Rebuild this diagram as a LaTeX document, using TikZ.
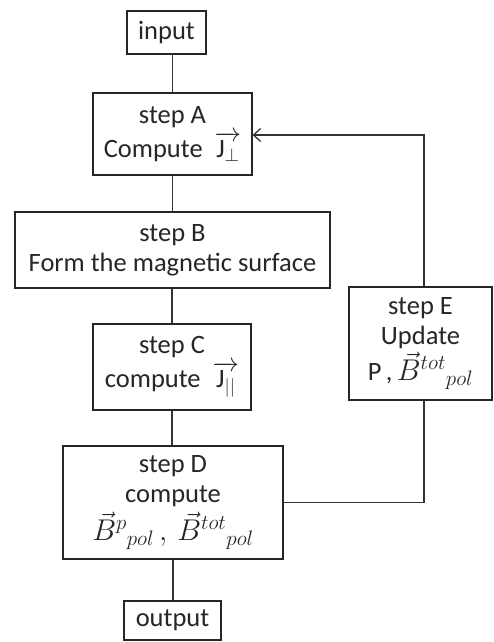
\documentclass[tikz,border=0pt]{standalone}
\usepackage{fix-cm}
\usepackage{fontspec}
\setmainfont{Carlito}
\usetikzlibrary{arrows.meta}
\newcommand{\bigmath}[1]{{\fontsize{30}{30}\selectfont$#1$}}
\begin{document}
\begin{tikzpicture}[x=1pt,y=-1pt,
  box/.style={draw=black!85, line width=1.3pt, align=center, inner sep=0pt,
    font=\fontsize{26.5}{30}\selectfont, text=black!85},
  wire/.style={draw=black!80, line width=1.3pt}]
\useasboundingbox (0,0) rectangle (494,642);
\node[box, minimum width=79pt, minimum height=43pt] (in) at (166.5,32.5) {input};
\node[box, minimum width=159pt, minimum height=82pt] (A) at (172.5,134) {step A\\[4pt]Compute\ \ $\overrightarrow{\hbox{J}_{\perp}}$};
\node[box, minimum width=315pt, minimum height=76pt] (B) at (172.5,250) {step B\\Form the magnetic surface};
\node[box, minimum width=158pt, minimum height=86pt] (C) at (172,367) {step C\\[4pt]compute\ \ $\overrightarrow{\hbox{J}_{||}}$};
\node[box, minimum width=220pt, minimum height=113pt] (D) at (173,502.5) {step D\\compute\\[4pt]\bigmath{\vec{B}^{p}{}_{pol}\,,\,\vec{B}^{tot}{}_{pol}}};
\node[box, minimum width=143pt, minimum height=113pt] (E) at (420.5,343.5) {step E\\Update\\[2pt]P\,,\,\bigmath{\vec{B}^{tot}{}_{pol}}};
\node[box, minimum width=97pt, minimum height=39pt] (out) at (172.5,620.5) {output};
\draw[wire] (in.south -| A.north) -- (A.north);
\draw[wire] (A.south) -- (A.south |- B.north);
\draw[wire] (B.south -| C.north) -- (C.north);
\draw[wire] (C.south) -- (C.south |- D.north);
\draw[wire] (D.south) -- (D.south |- out.north);
\draw[wire] (D.east) -| ([xshift=3.5pt]E.south);
\draw[wire, -{Straight Barb[length=7pt,width=13pt,line width=1.3pt]}] ([xshift=3.5pt]E.north) |- ([yshift=-1pt]A.east);
\end{tikzpicture}
\end{document}
